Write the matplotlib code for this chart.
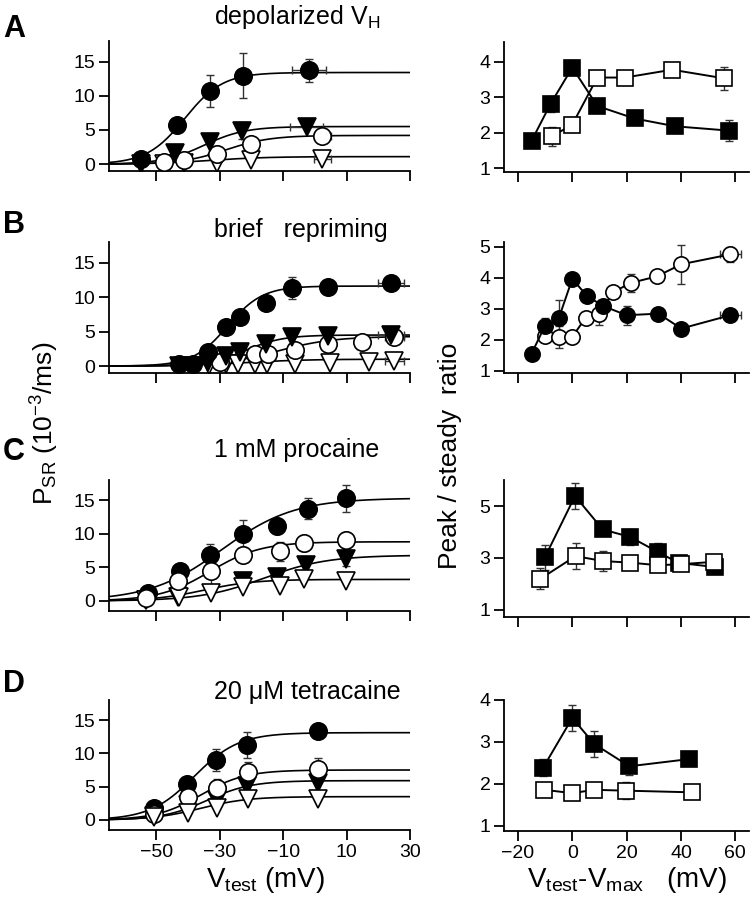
import matplotlib
matplotlib.use('Agg')
import matplotlib.pyplot as plt
import numpy as np

plt.rcParams['font.family'] = ['Liberation Sans', 'DejaVu Sans']
plt.rcParams['mathtext.fontset'] = 'custom'
plt.rcParams['mathtext.rm'] = 'Liberation Sans'
plt.rcParams['mathtext.it'] = 'Liberation Sans'

# ---- left column: P_SR vs Vtest (filled circle, filled triangle, open circle, open triangle)
# A  depolarized V_H
A_fc_x = [-54.8, -43.5, -33, -22.5, -1.8]
A_fc_y = [0.7, 5.7, 10.7, 12.9, 13.7]
A_fc_e = [0.3, 0.4, 2.4, 3.3, 1.7]
A_ft_x = [-54.8, -44, -33, -23, -2.6]
A_ft_y = [0.0, 1.6, 3.2, 4.9, 5.5]
A_ft_e = [0, 0, 0, 1.2, 0]
A_oc_x = [-47.7, -41.4, -31, -20, 2.4]
A_oc_y = [0.3, 0.6, 1.5, 3.0, 4.1]
A_ot_x = [-47.7, -41.4, -31, -20, 2.4]
A_ot_y = [0.0, 0.15, 0.15, 0.6, 0.75]
A_xerr = [5.3, 5.3, 2.6, 2.6]

# B  brief repriming
B_fc_x = [-42.9, -38.5, -33.8, -28.1, -23.7, -15.5, -7.2, 4.3, 24]
B_fc_y = [0.25, 0.25, 2.05, 5.7, 7.1, 9.2, 11.3, 11.4, 12.0]
B_fc_e = [0, 0, 0, 0, 0, 0, 1.6, 0, 0]
B_ft_x = [-42.9, -38.5, -33.8, -28.1, -23.7, -15.5, -7.2, 4.3, 24]
B_ft_y = [0.0, 0.0, 0.6, 1.4, 2.05, 3.2, 4.15, 4.35, 4.5]
B_ft_e = [0, 0, 0, 0, 0, 0, 1.0, 0, 0]
B_oc_x = [-30, -18.9, -14.7, -6.1, 4.3, 14.8, 25]
B_oc_y = [0.6, 1.8, 1.7, 2.4, 3.2, 3.5, 4.2]
B_ot_x = [-33.3, -28, -24.1, -18.9, -15, -6.1, 4.9, 17.1, 25]
B_ot_y = [0.1, 0.25, 0.25, 0.25, 0.25, 0.35, 0.45, 0.6, 0.8]
B_xerr = [4, 4, 3, 3]

# C  1 mM procaine
C_fc_x = [-52.6, -42.5, -33.1, -22.5, -11.9, -2.2, 9.9]
C_fc_y = [1.25, 4.5, 6.9, 10.0, 11.1, 13.75, 15.3]
C_fc_e = [0.3, 0.9, 1.5, 2.0, 1.2, 1.6, 2.0]
C_ft_x = [-53.1, -43.2, -22.6, -11.9, -2.8, 9.9]
C_ft_y = [0.2, 0.55, 2.9, 3.55, 5.4, 6.25]
C_ft_e = [0.3, 0.3, 0.4, 0.4, 1.0, 1.0]
C_oc_x = [-53.1, -43.2, -32.6, -22.5, -11, -3.5, 9.9]
C_oc_y = [0.5, 2.9, 4.5, 6.8, 7.4, 8.65, 9.0]
C_oc_e = [0.3, 0.4, 2.4, 0.6, 1.4, 1.2, 1.3]
C_ot_x = [-53.1, -42.7, -32.6, -22.5, -11, -3.5, 9.9]
C_ot_y = [0.15, 0.65, 1.25, 2.0, 2.15, 3.25, 2.9]

# D  20 uM tetracaine
D_fc_x = [-50.8, -40.3, -31.2, -21.3, 0.9]
D_fc_y = [1.75, 5.35, 9.0, 11.25, 13.4]
D_fc_e = [0.3, 1.1, 1.65, 2.0, 0.3]
D_ft_x = [-50.8, -40.1, -31, -21.3, 0.9]
D_ft_y = [0.6, 2.2, 3.0, 5.15, 5.6]
D_oc_x = [-50.8, -40.1, -31, -21, 0.9]
D_oc_y = [0.9, 3.4, 4.75, 7.15, 7.65]
D_oc_e = [0.3, 0.4, 1.35, 1.5, 1.6]
D_ot_x = [-50.8, -40.1, -31, -21, 0.9]
D_ot_y = [0.4, 1.0, 1.75, 3.1, 3.1]

# Boltzmann fit parameters (Pmax, V1/2, k) per series: fc, ft, oc, ot
A_fits = [(13.4, -41, 6), (5.5, -35, 6.5), (4.2, -28, 7), (1.1, -33, 9)]
B_fits = [(11.6, -27.5, 5.5), (4.5, -22, 6), (4.3, -12, 9), (1.0, -22, 10)]
C_fits = [(15.3, -29.3, 11.4), (6.8, -16, 10), (8.8, -33, 8), (3.2, -35, 8)]
D_fits = [(13.1, -38, 7), (5.9, -34, 7), (7.5, -36, 7), (3.5, -36, 7.5)]

# ---- right column: peak / steady ratio vs Vtest - Vmax
RA_f_x = [-15, -8, 0, 9.2, 22.9, 37.9, 57.6]
RA_f_y = [1.77, 2.81, 3.83, 2.75, 2.40, 2.18, 2.06]
RA_f_e = [0, 0.22, 0.2, 0, 0, 0, 0.3]
RA_o_x = [-7.4, 0, 9.2, 19.4, 36.7, 55.7]
RA_o_y = [1.9, 2.23, 3.55, 3.55, 3.77, 3.53]
RA_o_e = [0.27, 0.2, 0, 0.12, 0, 0.33]

RB_f_x = [-15, -10.1, -4.9, 0, 5.3, 11.2, 20, 31.7, 40.1, 58.2]
RB_f_y = [1.55, 2.44, 2.71, 3.96, 3.42, 3.09, 2.79, 2.84, 2.36, 2.79]
RB_f_e = [0, 0.25, 0.58, 0, 0, 0, 0.3, 0, 0, 0.2]
RB_o_x = [-10.1, -4.9, 0, 4.9, 10, 14.9, 21.6, 31.1, 40.1, 58.2]
RB_o_y = [2.11, 2.08, 2.09, 2.71, 2.82, 3.53, 3.83, 4.04, 4.43, 4.75]
RB_o_e = [0, 0.35, 0, 0, 0.33, 0, 0.3, 0, 0.62, 0.25]
RB_xerr = 4

RC_f_x = [-10.1, 1, 11.2, 21.3, 31.5, 39.1, 52.6]
RC_f_y = [3.02, 5.39, 4.1, 3.81, 3.23, 2.81, 2.65]
RC_f_e = [0.47, 0.49, 0.1, 0.3, 0.35, 0.2, 0.2]
RC_o_x = [-11.7, 1.2, 11.4, 21.3, 31.5, 40.1, 52]
RC_o_y = [2.2, 3.07, 2.88, 2.82, 2.72, 2.76, 2.85]
RC_o_e = [0.4, 0.5, 0.4, 0.2, 0.1, 0.2, 0.1]

RD_f_x = [-10.7, 0, 8.1, 21, 42.8]
RD_f_y = [2.39, 3.57, 2.95, 2.42, 2.59]
RD_f_e = [0.2, 0.3, 0.3, 0.2, 0.05]
RD_o_x = [-10.3, 0, 8, 19.6, 44]
RD_o_y = [1.86, 1.78, 1.86, 1.84, 1.8]
RD_o_e = [0.05, 0.1, 0.15, 0.2, 0.05]
RD_xerr = 2


def boltz(v, p):
    pmax, vh, k = p
    return pmax / (1 + np.exp((vh - v) / k))


fig = plt.figure(figsize=(7.55, 9.0), dpi=100)

left_pos = [[0.144, 0.810, 0.399, 0.1444],
            [0.144, 0.5856, 0.399, 0.1456],
            [0.144, 0.3211, 0.399, 0.1456],
            [0.144, 0.0778, 0.399, 0.1444]]
right_pos = [[0.668, 0.809, 0.324, 0.1444],
             [0.668, 0.5856, 0.324, 0.1456],
             [0.668, 0.3144, 0.324, 0.152],
             [0.668, 0.0767, 0.324, 0.1456]]


def style(ax):
    for s in ['top', 'right']:
        ax.spines[s].set_visible(False)
    for s in ['left', 'bottom']:
        ax.spines[s].set_linewidth(1.3)
    ax.tick_params(direction='out', length=7, width=1.3, labelsize=14, pad=3)


ms = 12.5
ebkw = dict(ecolor='#333333', elinewidth=1.0, capsize=3, capthick=1.0)


def left_panel(ax, series, fits, ylim, show_x):
    vv = np.linspace(-65, 30, 300)
    for p in fits:
        ax.plot(vv, boltz(vv, p), color='black', lw=1.2, zorder=1)
    for x, y, ye, xe, mk, fc, z in series:
        ax.errorbar(x, y, yerr=ye, xerr=xe, fmt='none', zorder=2, **ebkw)
        ax.plot(x, y, ls='none', marker=mk, ms=ms, mfc=fc, mec='black',
                mew=1.2, zorder=z)
    ax.set_xlim(-65, 30)
    ax.set_ylim(*ylim)
    ax.set_xticks([-50, -30, -10, 10, 30])
    ax.set_yticks([0, 5, 10, 15])
    style(ax)
    if not show_x:
        ax.set_xticklabels([])


def right_panel(ax, series, ylim, yticks, show_x):
    for x, y, ye, xe, fc, mk, z in series:
        ax.errorbar(x, y, yerr=ye, xerr=xe, fmt='none', zorder=2, **ebkw)
        ax.plot(x, y, color='black', lw=1.4, marker=mk, ms=ms - 1.5, mfc=fc,
                mec='black', mew=1.2, zorder=z)
    ax.set_xlim(-25, 65)
    ax.set_ylim(*ylim)
    ax.set_xticks([-20, 0, 20, 40, 60])
    ax.set_yticks(yticks)
    style(ax)
    if not show_x:
        ax.set_xticklabels([])


def xe_last(n, v):
    e = [0] * n
    e[-1] = v
    return e


# left A
ax = fig.add_axes(left_pos[0])
left_panel(ax, [
    (A_ot_x, A_ot_y, None, xe_last(5, A_xerr[3]), 'v', 'white', 3),
    (A_oc_x, A_oc_y, None, xe_last(5, A_xerr[2]), 'o', 'white', 4),
    (A_ft_x, A_ft_y, A_ft_e, xe_last(5, A_xerr[1]), 'v', 'black', 5),
    (A_fc_x, A_fc_y, A_fc_e, xe_last(5, A_xerr[0]), 'o', 'black', 6),
], A_fits, (-1, 18), False)

# left B
ax = fig.add_axes(left_pos[1])
left_panel(ax, [
    (B_ot_x, B_ot_y, None, xe_last(9, B_xerr[3]), 'v', 'white', 3),
    (B_oc_x, B_oc_y, None, xe_last(7, B_xerr[2]), 'o', 'white', 4),
    (B_ft_x, B_ft_y, B_ft_e, xe_last(9, B_xerr[1]), 'v', 'black', 5),
    (B_fc_x, B_fc_y, B_fc_e, xe_last(9, B_xerr[0]), 'o', 'black', 6),
], B_fits, (-1, 18), False)

# left C
ax = fig.add_axes(left_pos[2])
left_panel(ax, [
    (C_ft_x, C_ft_y, C_ft_e, None, 'v', 'black', 3),
    (C_ot_x, C_ot_y, None, None, 'v', 'white', 4),
    (C_fc_x, C_fc_y, C_fc_e, None, 'o', 'black', 5),
    (C_oc_x, C_oc_y, C_oc_e, None, 'o', 'white', 6),
], C_fits, (-1.5, 18), False)

# left D
ax = fig.add_axes(left_pos[3])
left_panel(ax, [
    (D_fc_x, D_fc_y, D_fc_e, None, 'o', 'black', 3),
    (D_ft_x, D_ft_y, None, None, 'v', 'black', 4),
    (D_oc_x, D_oc_y, D_oc_e, None, 'o', 'white', 5),
    (D_ot_x, D_ot_y, None, None, 'v', 'white', 6),
], D_fits, (-1.5, 18), True)

# right panels
ax = fig.add_axes(right_pos[0])
right_panel(ax, [
    (RA_f_x, RA_f_y, RA_f_e, None, 'black', 's', 3),
    (RA_o_x, RA_o_y, RA_o_e, None, 'white', 's', 4),
], (0.9, 4.55), [1, 2, 3, 4], False)

ax = fig.add_axes(right_pos[1])
right_panel(ax, [
    (RB_f_x, RB_f_y, RB_f_e, xe_last(10, RB_xerr), 'black', 'o', 4),
    (RB_o_x, RB_o_y, RB_o_e, xe_last(10, RB_xerr), 'white', 'o', 3),
], (0.93, 5.15), [1, 2, 3, 4, 5], False)

ax = fig.add_axes(right_pos[2])
right_panel(ax, [
    (RC_f_x, RC_f_y, RC_f_e, None, 'black', 's', 3),
    (RC_o_x, RC_o_y, RC_o_e, None, 'white', 's', 4),
], (0.72, 6.0), [1, 3, 5], False)

ax = fig.add_axes(right_pos[3])
right_panel(ax, [
    (RD_f_x, RD_f_y, RD_f_e, None, 'black', 's', 3),
    (RD_o_x, RD_o_y, RD_o_e, xe_last(5, RD_xerr), 'white', 's', 4),
], (0.88, 4.0), [1, 2, 3, 4], True)

# panel letters and titles
for lab, y in zip(['A', 'B', 'C', 'D'], [0.968, 0.750, 0.498, 0.240]):
    fig.text(0.004, y, lab, fontsize=22, fontweight='bold', va='center')

titles = [r'depolarized V$_\mathrm{H}$', 'brief   repriming', '1 mM procaine',
          '20 \u03bcM tetracaine']
for t, y in zip(titles, [0.981, 0.744, 0.500, 0.231]):
    fig.text(0.284, y, t, fontsize=18, va='center', ha='left')

fig.text(0.352, 0.022, r'V$_\mathrm{test}$ (mV)', fontsize=20, ha='center', va='center')
fig.text(0.83, 0.022, r'V$_\mathrm{test}$-V$_\mathrm{max}$   (mV)', fontsize=20,
         ha='center', va='center')
fig.text(0.059, 0.53, r'P$_\mathrm{SR}$ (10$^{-3}$/ms)', fontsize=19, rotation=90,
         ha='center', va='center')
fig.text(0.596, 0.493, 'Peak / steady  ratio', fontsize=19, rotation=90,
         ha='center', va='center')

fig.savefig('out.png', dpi=100)
